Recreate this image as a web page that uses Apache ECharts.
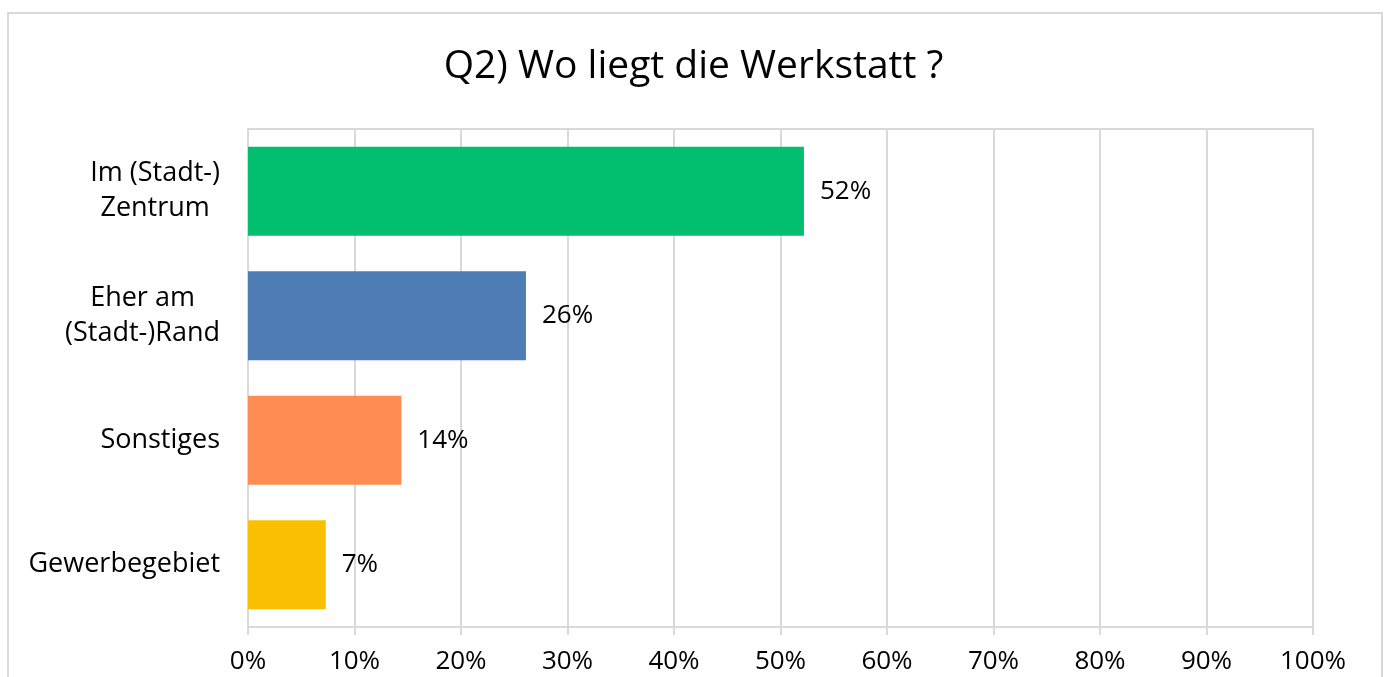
<!DOCTYPE html>
<html>
<head>
<meta charset="utf-8">
<script src="https://cdn.jsdelivr.net/npm/echarts@6/dist/echarts.min.js"></script>
<style>
  html, body { margin: 0; padding: 0; background: #fff; }
  #chart { width: 1387px; height: 677px; }
</style>
</head>
<body>
<div id="chart"></div>
<script>
  // Antwortkategorien, von oben nach unten
  const categories = ['Im (Stadt-)\nZentrum', 'Eher am\n(Stadt-)Rand', 'Sonstiges', 'Gewerbegebiet']
  const shares = [52.2, 26.1, 14.4, 7.3]
  const barColors = ['#02bf6f', '#4e7db6', '#ff8c52', '#f9bf00']

  const fontFamily = '"Open Sans", "Liberation Sans", sans-serif'
  const lineColor = '#d9d9d9'

  const chart = echarts.init(document.getElementById('chart'))
  chart.setOption({
    animation: false,
    title: {
      text: 'Q2) Wo liegt die Werkstatt ?',
      left: 'center',
      top: 42,
      textStyle: { fontFamily, fontSize: 39, fontWeight: 'normal', color: '#000' }
    },
    graphic: [{
      type: 'rect',
      shape: { x: 8, y: 13, width: 1374, height: 720 },
      style: { fill: 'none', stroke: lineColor, lineWidth: 2 },
      silent: true
    }],
    grid: {
      left: 248, right: 74, top: 129, bottom: 50,
      show: true, borderColor: lineColor, borderWidth: 2
    },
    xAxis: {
      type: 'value',
      min: 0,
      max: 100,
      interval: 10,
      axisLine: { show: true, lineStyle: { color: lineColor, width: 2 } },
      axisTick: { show: true, length: 8, lineStyle: { color: lineColor, width: 2 } },
      splitLine: { lineStyle: { color: lineColor, width: 2 } },
      axisLabel: {
        formatter: '{value}%',
        fontFamily, fontSize: 26, color: '#000', margin: 22
      }
    },
    yAxis: {
      type: 'category',
      data: categories,
      inverse: true,
      axisLine: { show: false },
      axisTick: { show: false },
      axisLabel: {
        // Zeilen mittig zueinander, Block rechtsbündig an der Achse
        formatter: v => v.split('\n').map(s => '{c|' + s + '}').join('\n'),
        rich: { c: { align: 'center', fontFamily, fontSize: 27, color: '#000', lineHeight: 35 } },
        margin: 28,
        align: 'right'
      }
    },
    series: [{
      type: 'bar',
      data: shares.map((v, i) => ({ value: v, itemStyle: { color: barColors[i] } })),
      barWidth: '71.5%',
      label: {
        show: true,
        position: 'right',
        distance: 16,
        formatter: p => Math.round(p.value) + '%',
        fontFamily, fontSize: 26, color: '#000'
      }
    }]
  })
</script>
</body>
</html>
